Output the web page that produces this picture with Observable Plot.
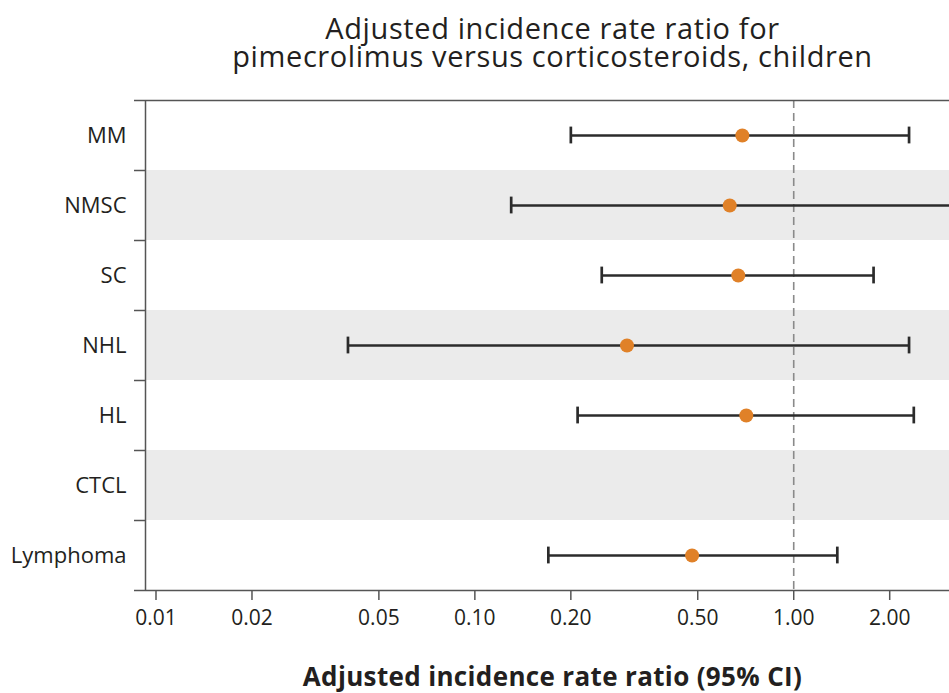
<!DOCTYPE html>
<html>
<head>
<meta charset="utf-8">
<script src="https://cdn.jsdelivr.net/npm/d3@7"></script>
<script src="https://cdn.jsdelivr.net/npm/@observablehq/plot@0.6"></script>
<style>
  html, body { margin: 0; padding: 0; background: #fff; overflow: hidden; }
  body { width: 949px; height: 693px; font-family: "Open Sans", Lato, sans-serif; color: #231f20; }
  .title { box-sizing: border-box; height: 90px; padding-top: 14px; padding-left: 156px; text-align: center;
           font-size: 29px; font-weight: 500; letter-spacing: 0.6px; }
  .title div { height: 27.5px; line-height: 27.5px; white-space: nowrap; }
  .xlabel { box-sizing: border-box; padding-top: 13px; padding-left: 156px; text-align: center;
            font-size: 26px; line-height: 26px; font-weight: 700; letter-spacing: 0.35px; }
  #chart svg { display: block; }
</style>
</head>
<body>
<div class="title">
  <div>Adjusted incidence rate ratio for</div>
  <div>pimecrolimus versus corticosteroids, children</div>
</div>
<div id="chart"></div>
<div class="xlabel">Adjusted incidence rate ratio (95% CI)</div>
<script>
// Outcomes, top to bottom
const outcomes = ["MM", "NMSC", "SC", "NHL", "HL", "CTCL", "Lymphoma"];
// Adjusted incidence rate ratio and 95% CI (null = not estimable)
const irr   = [0.69, 0.63, 0.67, 0.30, 0.71, null, 0.48];
const lower = [0.20, 0.13, 0.25, 0.04, 0.21, null, 0.17];
const upper = [2.30, 3.40, 1.78, 2.30, 2.38, null, 1.37];
// Log-axis ticks and their labels
const xTicks = [0.01, 0.02, 0.05, 0.10, 0.20, 0.50, 1.00, 2.00];
const xTickLabels = ["0.01", "0.02", "0.05", "0.10", "0.20", "0.50", "1.00", "2.00"];
const xDomain = [0.00927, 3.08];

const rows = outcomes.map((name, i) => ({name, i, irr: irr[i], lo: lower[i], hi: upper[i]}));
const estimates = rows.filter(d => d.irr != null);
const shaded = rows.filter(d => d.i % 2 === 1);
const edges = d3.range(outcomes.length + 1);

const ink = "#2b2b2b";
const axisInk = "#555";
const textInk = "#231f20";
const font = "'Open Sans', Lato, sans-serif";

const chart = Plot.plot({
  width: 949,
  height: 560,
  marginTop: 10,
  marginBottom: 60,
  marginLeft: 145,
  marginRight: 0,
  style: {fontFamily: font, fontSize: "21px", color: textInk, overflow: "hidden"},
  x: {type: "log", domain: xDomain, label: null},
  y: {domain: [0, outcomes.length], reverse: true, label: null},
  marks: [
    // alternating row shading
    Plot.rect(shaded, {y1: d => d.i, y2: d => d.i + 1, fill: "#ebebeb"}),
    // reference line at IRR = 1
    Plot.ruleX([1], {stroke: "#8a8a8a", strokeWidth: 1.6, strokeDasharray: "8,5"}),
    // frame lines
    Plot.ruleY([0, outcomes.length], {stroke: axisInk, strokeWidth: 1.5}),
    Plot.ruleX([xDomain[0]], {stroke: axisInk, strokeWidth: 1.5}),
    // confidence intervals
    Plot.ruleY(estimates, {y: d => d.i + 0.5, x1: "lo", x2: "hi", stroke: ink, strokeWidth: 2.7, clip: true}),
    Plot.ruleX(estimates, {x: "lo", y1: d => d.i + 0.38, y2: d => d.i + 0.62, stroke: ink, strokeWidth: 2.7, clip: true}),
    Plot.ruleX(estimates, {x: "hi", y1: d => d.i + 0.38, y2: d => d.i + 0.62, stroke: ink, strokeWidth: 2.7, clip: true}),
    // point estimates
    Plot.dot(estimates, {x: "irr", y: d => d.i + 0.5, r: 7, fill: "#e08128", stroke: null}),
    // row boundary ticks
    Plot.axisY({ticks: edges, tickSize: 11, tickFormat: () => "", stroke: axisInk, strokeWidth: 1.5}),
    // row labels
    Plot.axisY({ticks: rows.map(d => d.i + 0.5), tickSize: 0, tickPadding: 19,
                tickFormat: v => outcomes[Math.floor(v)], fill: textInk, fontSize: 22}),
    // x axis tick marks, with labels drawn as text below
    Plot.axisX({ticks: xTicks, tickSize: 10, tickFormat: () => "", stroke: axisInk, strokeWidth: 1.5, label: null}),
    Plot.text(xTicks, {x: d => d, text: (d, i) => xTickLabels[i], frameAnchor: "bottom",
                       lineAnchor: "top", dy: 20, fill: textInk, fontSize: 21})
  ]
});
document.getElementById("chart").appendChild(chart);
</script>
</body>
</html>
